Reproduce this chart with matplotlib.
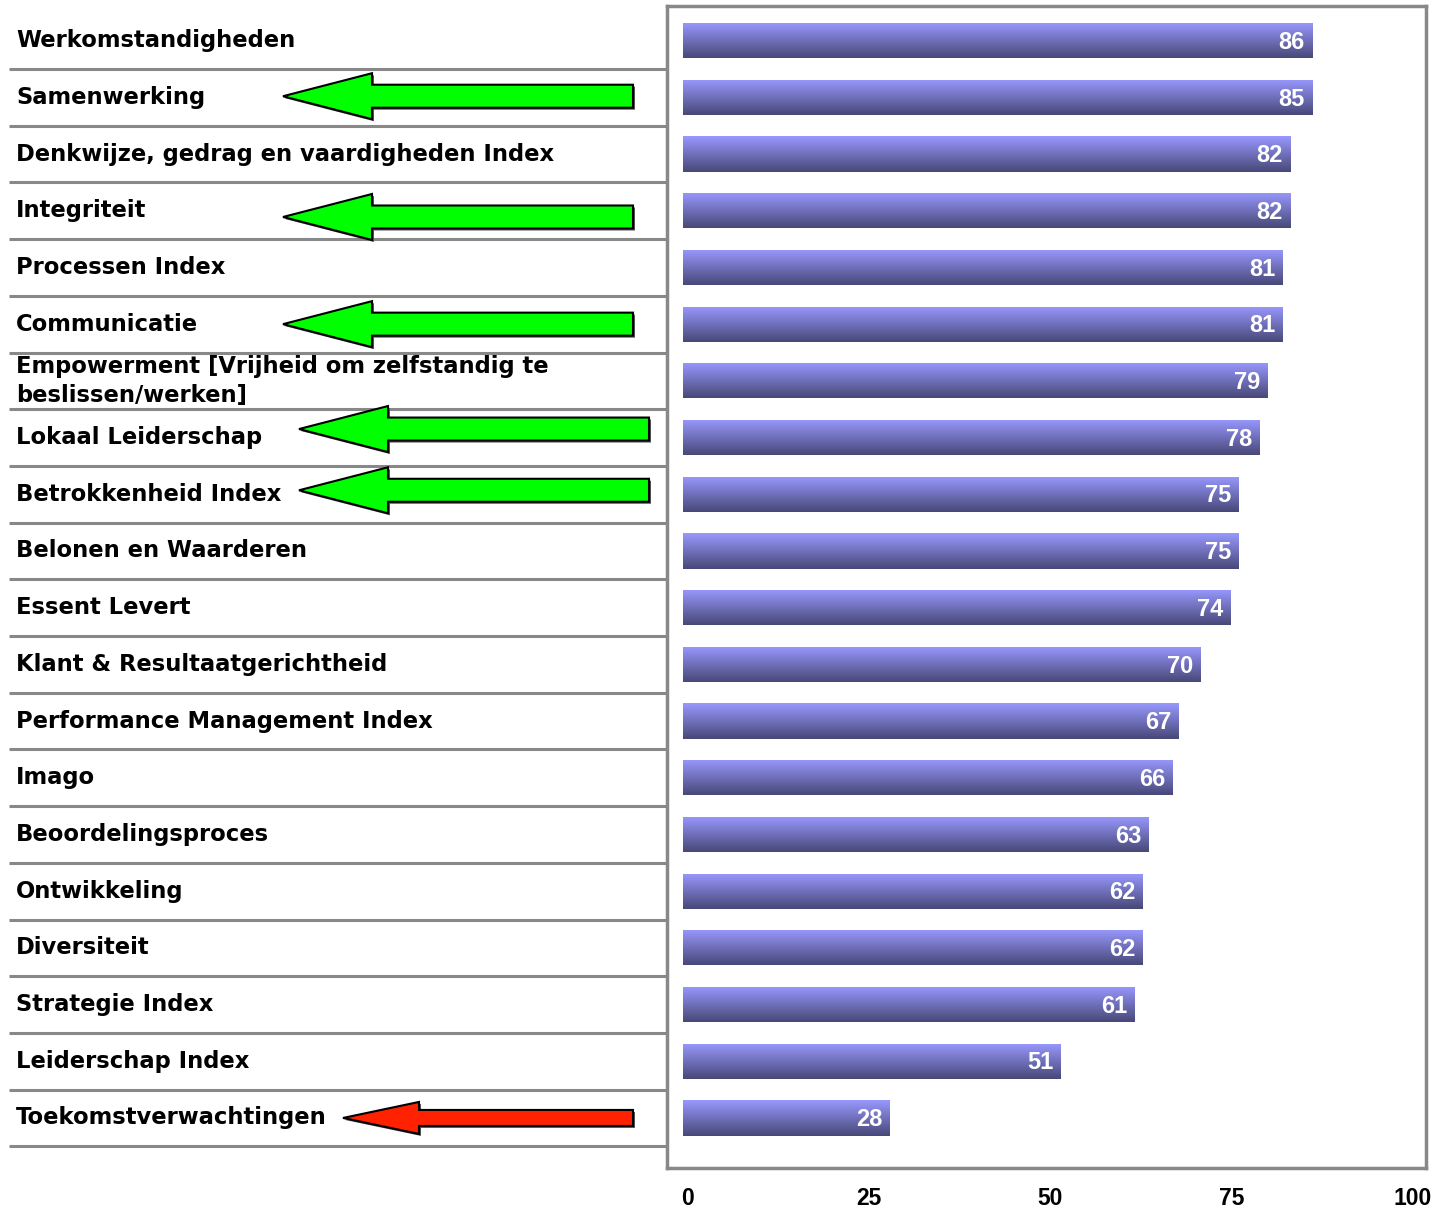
import numpy as np
import matplotlib
matplotlib.use('Agg')
import matplotlib.pyplot as plt
from matplotlib.patches import Polygon
from matplotlib import font_manager

plt.rcParams['font.family'] = ['Liberation Sans', 'DejaVu Sans']

# Data
categories = ['Werkomstandigheden', 'Samenwerking', 'Denkwijze, gedrag en vaardigheden Index',
              'Integriteit', 'Processen Index', 'Communicatie',
              'Empowerment [Vrijheid om zelfstandig te\nbeslissen/werken]',
              'Lokaal Leiderschap', 'Betrokkenheid Index', 'Belonen en Waarderen',
              'Essent Levert', 'Klant & Resultaatgerichtheid', 'Performance Management Index',
              'Imago', 'Beoordelingsproces', 'Ontwikkeling', 'Diversiteit',
              'Strategie Index', 'Leiderschap Index', 'Toekomstverwachtingen']
scores = [86.1, 86.1, 83.1, 83.1, 82.0, 82.0, 80.0, 78.9, 75.9, 75.9, 74.8, 70.7,
          67.7, 66.9, 63.6, 62.8, 62.8, 61.7, 51.5, 27.9]
score_labels = [86, 85, 82, 82, 81, 81, 79, 78, 75, 75, 74, 70, 67, 66, 63, 62, 62, 61, 51, 28]
x_ticks = [0, 25, 50, 75, 100]
green_rows = ['Samenwerking', 'Integriteit', 'Communicatie', 'Lokaal Leiderschap', 'Betrokkenheid Index']
red_rows = ['Toekomstverwachtingen']

W, H = 1434, 1210
fig = plt.figure(figsize=(W / 100, H / 100), dpi=100)

# pick the regular-width Liberation Sans Bold file (not the Narrow one)
cands = [f.fname for f in font_manager.fontManager.ttflist
         if f.name == 'Liberation Sans' and f.weight in (700, 'bold') and f.style == 'normal'
         and 'narrow' not in f.fname.lower()]
if cands:
    num_font = font_manager.FontProperties(fname=cands[0])
else:
    num_font = font_manager.FontProperties(family='Liberation Sans', weight='bold')

n = len(categories)
row_top_px, row_h_px = 12.3, 56.7
ax_top_px, ax_bot_px = 6, 1168
y_top = -0.5 - (row_top_px - ax_top_px) / row_h_px
y_bot = n - 0.5 + (ax_bot_px - (row_top_px + n * row_h_px)) / row_h_px

# main bar axes
px_per_unit = 7.26
zero_px = 687
ax = fig.add_axes([667 / W, 1 - ax_bot_px / H, (1426 - 667) / W, (ax_bot_px - ax_top_px) / H])
xlim = ((667 - zero_px) / px_per_unit, (1426 - zero_px) / px_per_unit)
bar_left = (683 - zero_px) / px_per_unit

grad = np.linspace(0, 1, 256).reshape(-1, 1, 1)
top_c = np.array([0.60, 0.60, 1.0])
bot_c = np.array([0.28, 0.28, 0.47])
img = top_c + (bot_c - top_c) * grad

widths = [s - bar_left for s in scores]
bars = ax.barh(range(n), widths, left=bar_left, height=0.62, color='none', edgecolor='none')
for i, (b, s, lab) in enumerate(zip(bars, scores, score_labels)):
    y0 = i - 0.31
    im = ax.imshow(img, extent=[bar_left, s, y0 + 0.62, y0], aspect='auto', zorder=2)
    im.set_clip_path(b)
    ax.text(s - 1.0, i + 0.03, str(lab), ha='right', va='center', color='white',
            fontproperties=num_font, fontsize=17, zorder=3)
ax.set_xlim(*xlim)
ax.set_ylim(y_bot, y_top)

ax.set_xticks(x_ticks)
ax.set_xticklabels([str(t) for t in x_ticks], fontproperties=num_font, fontsize=16.5)
ax.tick_params(axis='x', length=0, pad=14)
ax.set_yticks([])
for s in ax.spines.values():
    s.set_color('#888888')
    s.set_linewidth(2.5)

# left table axes
axl = fig.add_axes([0, 1 - ax_bot_px / H, 667 / W, (ax_bot_px - ax_top_px) / H])
axl.set_xlim(0, 667)
axl.set_ylim(y_bot, y_top)
axl.axis('off')
for i, c in enumerate(categories):
    axl.text(16, i + 0.0, c, ha='left', va='center', fontsize=16.3, fontweight='bold',
             family='DejaVu Sans', linespacing=1.33)
    axl.plot([9, 667], [i + 0.5, i + 0.5], color='#888888', lw=2.2, solid_capstyle='butt')

# arrows: (tip x, head base x, tail x)
arrow_x = {'Samenwerking': (283, 372, 633), 'Integriteit': (283, 372, 633),
           'Communicatie': (283, 372, 633), 'Lokaal Leiderschap': (299, 388, 649),
           'Betrokkenheid Index': (299, 388, 649), 'Toekomstverwachtingen': (343, 419, 633)}
arrow_dy = {'Samenwerking': -0.02, 'Integriteit': 0.11, 'Communicatie': 0.0,
            'Lokaal Leiderschap': -0.15, 'Betrokkenheid Index': -0.07, 'Toekomstverwachtingen': 0.0}


def draw_arrow(row, color, head_h, shaft_h):
    i = categories.index(row)
    tip, base, tail = arrow_x[row]
    yc = i + arrow_dy[row]
    hh, sh = head_h / row_h_px / 2, shaft_h / row_h_px / 2
    pts = [(tip, yc), (base, yc - hh), (base, yc - sh), (tail, yc - sh),
           (tail, yc + sh), (base, yc + sh), (base, yc + hh)]
    shadow = Polygon([(x + 2, y + 2 / row_h_px) for x, y in pts], closed=True,
                     facecolor='#555555', edgecolor='none', zorder=3)
    axl.add_patch(shadow)
    axl.add_patch(Polygon(pts, closed=True, facecolor=color, edgecolor='black',
                          lw=1.5, zorder=4, joinstyle='miter'))


for r in green_rows:
    draw_arrow(r, '#00FF00', 46, 23)
for r in red_rows:
    draw_arrow(r, '#FF2200', 32, 16)

fig.savefig('out.png', dpi=100)
